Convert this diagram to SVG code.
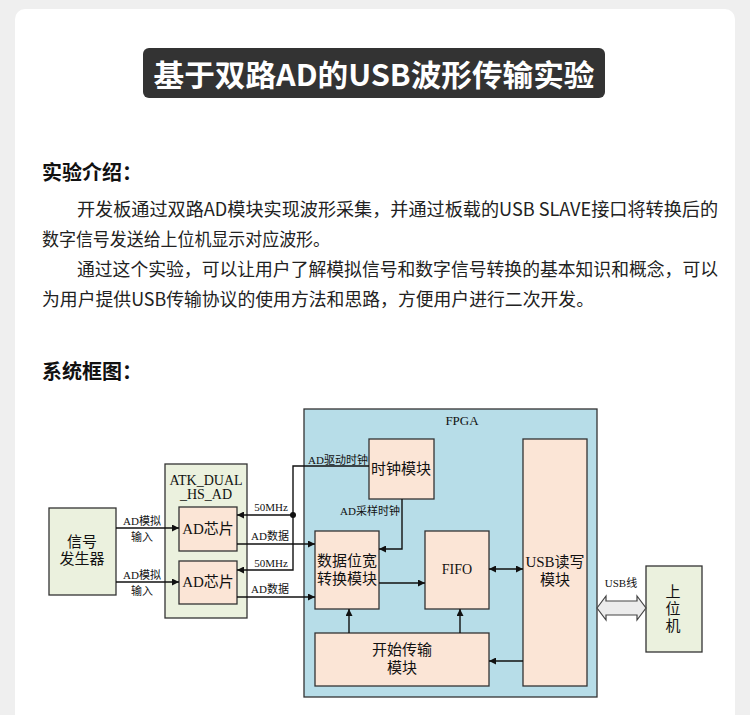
<svg xmlns="http://www.w3.org/2000/svg" width="750" height="715" viewBox="0 0 750 715">
<style>
.h{font-family:"Noto Sans CJK SC","Noto Sans",sans-serif;font-weight:bold;fill:#111;}
.p{font-family:"Noto Sans CJK SC","Noto Sans",sans-serif;fill:#222;font-size:18px;}
.d{font-family:"Liberation Serif","Noto Sans CJK SC",serif;fill:#111;text-anchor:middle;dominant-baseline:central;}
.s{font-size:11px;}
.m{font-size:15px;}
.box{stroke:#333;stroke-width:1.3;}
.peach{fill:#fbe5d6;}
.green{fill:#ebf1de;}
.ln{stroke:#111;stroke-width:1.4;fill:none;}
</style>
<defs>
<marker id="ah" viewBox="0 0 10 10" refX="10" refY="5" markerWidth="7" markerHeight="7" markerUnits="userSpaceOnUse" orient="auto-start-reverse">
<path d="M0,0 L10,5 L0,10 z" fill="#111"/>
</marker>
</defs>
<rect x="0" y="0" width="750" height="715" fill="#efefef"/>
<rect x="15" y="9" width="720" height="720" rx="10" fill="#ffffff"/>

<g id="title">
<rect x="143" y="48" width="462" height="50" rx="6" fill="#333333"/>
<text x="374" y="73" fill="#ffffff" font-family="'Noto Sans CJK SC','Noto Sans',sans-serif" font-weight="bold" font-size="30" text-anchor="middle" dominant-baseline="central" textLength="441" lengthAdjust="spacingAndGlyphs">基于双路AD的USB波形传输实验</text>
</g>

<g id="intro">
<text class="h" x="42" y="180" font-size="20">实验介绍：</text>
<text class="p" x="77" y="216" textLength="641" lengthAdjust="spacingAndGlyphs">开发板通过双路AD模块实现波形采集，并通过板载的USB SLAVE接口将转换后的</text>
<text class="p" x="42" y="246" textLength="288" lengthAdjust="spacingAndGlyphs">数字信号发送给上位机显示对应波形。</text>
<text class="p" x="77" y="276" textLength="641" lengthAdjust="spacingAndGlyphs">通过这个实验，可以让用户了解模拟信号和数字信号转换的基本知识和概念，可以</text>
<text class="p" x="42" y="306" textLength="552" lengthAdjust="spacingAndGlyphs">为用户提供USB传输协议的使用方法和思路，方便用户进行二次开发。</text>
<text class="h" x="42" y="379" font-size="20">系统框图：</text>
</g>

<g id="fpga">
<rect class="box" x="304" y="409" width="293" height="288" fill="#b7dde8"/>
<text class="d" x="462" y="420" font-size="13">FPGA</text>
</g>

<g id="signal_gen">
<rect class="box green" x="49" y="508" width="67" height="87"/>
<text class="d m" x="82" y="542">信号</text>
<text class="d m" x="82" y="559">发生器</text>
</g>

<g id="atk_module">
<rect class="box green" x="165" y="464" width="82" height="154"/>
<text class="d" x="206" y="480" font-size="14">ATK_DUAL</text>
<text class="d" x="206" y="494" font-size="14">_HS_AD</text>
</g>

<g id="ad_chip1">
<rect class="box peach" x="179" y="507" width="58" height="44"/>
<text class="d" x="208" y="529" font-size="15">AD芯片</text>
</g>

<g id="ad_chip2">
<rect class="box peach" x="179" y="561" width="58" height="43"/>
<text class="d" x="208" y="582" font-size="15">AD芯片</text>
</g>

<g id="clock">
<rect class="box peach" x="369" y="439" width="65" height="60"/>
<text class="d m" x="401" y="469">时钟模块</text>
</g>

<g id="width_conv">
<rect class="box peach" x="315" y="531" width="64" height="78"/>
<text class="d m" x="347" y="561">数据位宽</text>
<text class="d m" x="347" y="579">转换模块</text>
</g>

<g id="fifo">
<rect class="box peach" x="425" y="531" width="64" height="78"/>
<text class="d" x="457" y="569" font-size="14">FIFO</text>
</g>

<g id="usb_rw">
<rect class="box peach" x="523" y="439" width="64" height="247"/>
<text class="d m" x="555" y="562">USB读写</text>
<text class="d m" x="555" y="580">模块</text>
</g>

<g id="start_tx">
<rect class="box peach" x="315" y="633" width="174" height="53"/>
<text class="d m" x="402" y="650">开始传输</text>
<text class="d m" x="402" y="668">模块</text>
</g>

<g id="host">
<rect class="box green" x="646" y="566" width="56" height="86"/>
<text class="d m" x="673" y="592">上</text>
<text class="d m" x="673" y="609">位</text>
<text class="d m" x="673" y="626">机</text>
</g>

<g id="connectors">
<line class="ln" x1="116" y1="528" x2="179" y2="528" marker-end="url(#ah)"/>
<line class="ln" x1="116" y1="582" x2="179" y2="582" marker-end="url(#ah)"/>
<text class="d s" x="142" y="521">AD模拟</text>
<text class="d s" x="142" y="537">输入</text>
<text class="d s" x="142" y="575">AD模拟</text>
<text class="d s" x="142" y="591">输入</text>

<polyline class="ln" points="369,466 293,466 293,570 237,570" marker-end="url(#ah)"/>
<line class="ln" x1="293" y1="515" x2="237" y2="515" marker-end="url(#ah)"/>
<circle cx="293" cy="515" r="3" fill="#111"/>
<text class="d s" x="338" y="460">AD驱动时钟</text>
<text class="d s" x="271" y="507">50MHz</text>
<text class="d s" x="271" y="563">50MHz</text>

<line class="ln" x1="237" y1="544" x2="315" y2="544" marker-end="url(#ah)"/>
<line class="ln" x1="237" y1="597" x2="315" y2="597" marker-end="url(#ah)"/>
<text class="d s" x="270" y="536">AD数据</text>
<text class="d s" x="270" y="589">AD数据</text>

<polyline class="ln" points="402,499 402,549 379,549" marker-end="url(#ah)"/>
<text class="d s" x="370" y="511">AD采样时钟</text>

<line class="ln" x1="379" y1="583" x2="425" y2="583" marker-end="url(#ah)"/>
<line class="ln" x1="489" y1="569" x2="523" y2="569" marker-start="url(#ah)" marker-end="url(#ah)"/>
<line class="ln" x1="349" y1="633" x2="349" y2="609" marker-end="url(#ah)"/>
<line class="ln" x1="460" y1="633" x2="460" y2="609" marker-end="url(#ah)"/>
<line class="ln" x1="523" y1="661" x2="489" y2="661" marker-end="url(#ah)"/>

<path d="M597,608 L606,596 L606,601 L637,601 L637,596 L646,608 L637,620 L637,615 L606,615 L606,620 Z" fill="#ececec" stroke="#444" stroke-width="1.2"/>
<text class="d s" x="621" y="583">USB线</text>
</g>
</svg>
